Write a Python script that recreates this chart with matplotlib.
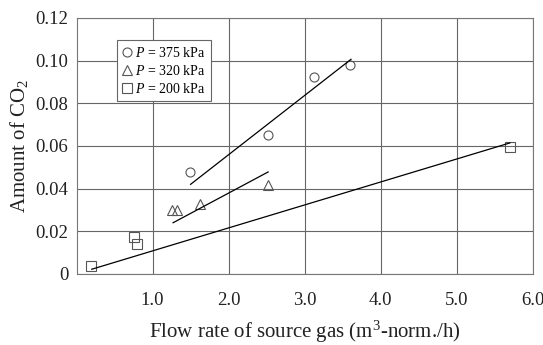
import matplotlib
matplotlib.use("Agg")
import matplotlib.pyplot as plt
from matplotlib.lines import Line2D

plt.rcParams['font.family'] = ['Liberation Serif', 'DejaVu Serif']
plt.rcParams['mathtext.fontset'] = 'custom'
plt.rcParams['mathtext.rm'] = 'Liberation Serif'
plt.rcParams['mathtext.it'] = 'Liberation Serif:italic'

# measured points
x_375 = [1.49, 2.52, 3.12, 3.60]
y_375 = [0.048, 0.065, 0.0925, 0.098]
x_320 = [1.25, 1.32, 1.62, 2.52]
y_320 = [0.030, 0.030, 0.033, 0.0415]
x_200 = [0.19, 0.76, 0.79, 5.70]
y_200 = [0.0035, 0.0175, 0.014, 0.0597]

# fitted lines (end points)
fit_375_x = [1.50, 3.61]
fit_375_y = [0.042, 0.1006]
fit_320_x = [1.27, 2.52]
fit_320_y = [0.024, 0.0478]
fit_200_x = [0.20, 5.70]
fit_200_y = [0.0022, 0.0614]

xticks = [1.0, 2.0, 3.0, 4.0, 5.0, 6.0]
yticks = [0, 0.02, 0.04, 0.06, 0.08, 0.10, 0.12]
ytick_labels = ['0', '0.02', '0.04', '0.06', '0.08', '0.10', '0.12']

fig = plt.figure(figsize=(5.43, 3.45), dpi=100)
ax = fig.add_axes([0.141, 0.206, 0.840, 0.742])

mk = dict(linestyle='none', markerfacecolor='none', markeredgecolor='#555555',
          markeredgewidth=0.8, markersize=6.5)
ax.plot(x_375, y_375, marker='o', **mk)
ax.plot(x_320, y_320, marker='^', **mk)
ax.plot(x_200, y_200, marker='s', **mk)

ax.plot(fit_375_x, fit_375_y, color='black', lw=0.9)
ax.plot(fit_320_x, fit_320_y, color='black', lw=0.9)
ax.plot(fit_200_x, fit_200_y, color='black', lw=0.9)

ax.set_xlim(0, 6)
ax.set_ylim(0, 0.12)
ax.set_xticks(xticks)
ax.set_xticklabels(['%.1f' % v for v in xticks])
ax.set_yticks(yticks)
ax.set_yticklabels(ytick_labels)
ax.tick_params(axis='x', pad=13)
ax.tick_params(axis='y', pad=6)
ax.tick_params(length=0, labelsize=13.5, colors='#222222')
ax.grid(True, color='#666666', lw=0.8)
ax.set_axisbelow(True)
for s in ax.spines.values():
    s.set_color('#777777')
    s.set_linewidth(0.8)

ax.set_xlabel('Flow rate of source gas (m$^3$-norm./h)', fontsize=15, labelpad=7, color='#222222')
ax.set_ylabel('Amount of CO$_2$', fontsize=15, labelpad=4, color='#222222')

handles = [
    Line2D([], [], marker='o', **mk),
    Line2D([], [], marker='^', **mk),
    Line2D([], [], marker='s', **mk),
]
labels = ['$P$ = 375 kPa', '$P$ = 320 kPa', '$P$ = 200 kPa']
leg = ax.legend(handles, labels, loc='upper left', bbox_to_anchor=(0.089, 0.914),
                fontsize=10, fancybox=False, framealpha=1, edgecolor='#666666',
                handlelength=0.6, handletextpad=0.3, borderpad=0.4, labelspacing=0.3,
                borderaxespad=0)
leg.get_frame().set_linewidth(0.8)

fig.savefig('out.png', dpi=100)
